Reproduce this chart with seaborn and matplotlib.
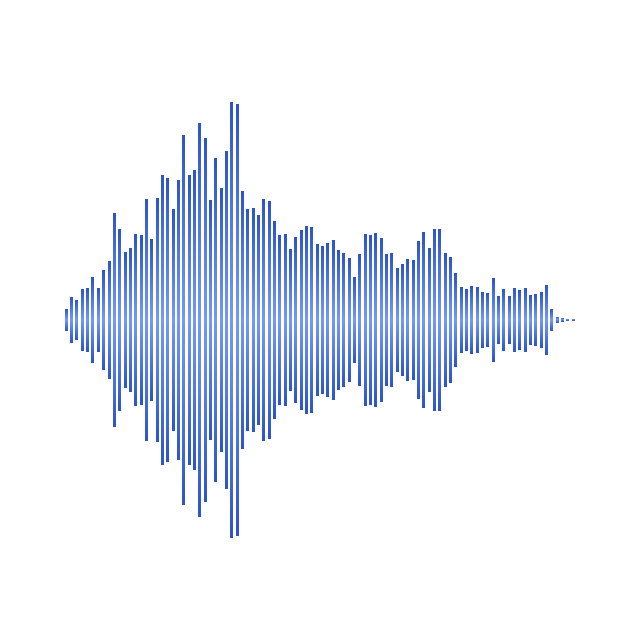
import matplotlib
matplotlib.use("Agg")
import matplotlib.pyplot as plt
import numpy as np
import pandas as pd
import seaborn as sns
from matplotlib.colors import LinearSegmentedColormap

# half amplitude of each bar (pixels above/below the centre line)
amplitudes = [
    11, 23, 20, 31, 32, 43, 32, 50, 59, 107,
    91, 68, 72, 86, 85, 121, 81, 122, 145, 142,
    111, 140, 185, 145, 150, 197, 182, 120, 162, 132,
    169, 218, 216, 129, 111, 112, 105, 121, 119, 99,
    85, 86, 71, 83, 90, 94, 93, 76, 74, 77,
    80, 70, 67, 62, 43, 66, 86, 85, 87, 82,
    66, 67, 52, 56, 61, 60, 79, 88, 72, 91,
    91, 67, 63, 47, 33, 31, 34, 33, 28, 27,
    42, 24, 31, 24, 32, 30, 32, 25, 26, 28,
    35, 11, 3.5, 2.5, 1.5, 1.5,
]
positions = list(range(len(amplitudes)))

centre_color = "#7399ff"
tip_color = "#2c54cc"

df = pd.DataFrame({"pos": positions, "amp": amplitudes})
df_mirror = pd.DataFrame({"pos": positions, "amp": [-a for a in amplitudes]})

sns.set_style("white")
fig = plt.figure(figsize=(6.4, 6.4), dpi=100)
ax = fig.add_axes([0, 0, 1, 1])

sns.barplot(data=df, x="pos", y="amp", color=tip_color, width=0.56, ax=ax)
sns.barplot(data=df_mirror, x="pos", y="amp", color=tip_color, width=0.56, ax=ax)

cmap = LinearSegmentedColormap.from_list("wave", [centre_color, tip_color])
grad = np.linspace(0, 1, 256).reshape(-1, 1)

for patch in list(ax.patches):
    x0, y0 = patch.get_x(), patch.get_y()
    w, h = patch.get_width(), patch.get_height()
    if h == 0:
        continue
    patch.set_facecolor("none")
    patch.set_edgecolor("none")
    lo, hi = min(y0, y0 + h), max(y0, y0 + h)
    # gradient runs from the centre line (light) to the tip (dark)
    img = grad if hi > 0 else grad[::-1]
    im = ax.imshow(img, cmap=cmap, aspect="auto", origin="lower",
                   extent=[x0, x0 + w, lo, hi], interpolation="bilinear", zorder=2)
    im.set_clip_path(patch)

step = 5.337
ax.set_xlim(-66.3 / step, (640 - 66.3) / step)
ax.set_ylim(-320, 320)
ax.axis("off")

fig.savefig("out.png", dpi=100, facecolor="white")
